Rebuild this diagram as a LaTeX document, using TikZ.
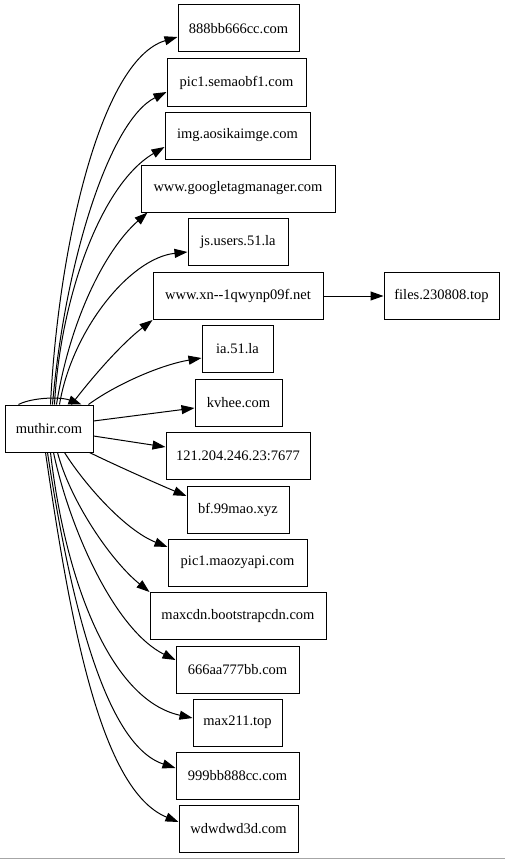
\documentclass[tikz,border=0pt]{standalone}
\usepackage{fontspec}
\setmainfont{Liberation Serif}
\usetikzlibrary{arrows.meta,calc}
\begin{document}
\begin{tikzpicture}[x=1pt,y=-1pt,
  box/.style={draw, line width=1pt, minimum height=47pt, inner sep=0pt, font=\fontsize{14.5}{16}\selectfont},
  e/.style={line width=1pt, -{Triangle[length=13pt,width=9pt]}}]
\useasboundingbox (0,0) rectangle (505,859);
\node[box, minimum width=88pt]  (m)   at (49,428.5)  {muthir.com};
\node[box, minimum width=121pt] (n1)  at (238.5,28.5) {888bb666cc.com};
\node[box, minimum width=139pt] (n2)  at (236.5,82.5) {pic1.semaobf1.com};
\node[box, minimum width=145pt] (n3)  at (237.5,135.5) {img.aosikaimge.com};
\node[box, minimum width=194pt] (n4)  at (238,188.5) {www.googletagmanager.com};
\node[box, minimum width=100pt] (n5)  at (238,242) {js.users.51.la};
\node[box, minimum width=170pt] (n6)  at (238,296) {www.xn{-}{-}1qwynp09f.net};
\node[box, minimum width=115pt] (n7)  at (441.5,296) {files.230808.top};
\node[box, minimum width=71pt]  (n8)  at (237.5,349) {ia.51.la};
\node[box, minimum width=87pt]  (n9)  at (238.5,402.5) {kvhee.com};
\node[box, minimum width=144pt] (n10) at (238,455.5) {121.204.246.23:7677};
\node[box, minimum width=102pt] (n11) at (238,509.5) {bf.99mao.xyz};
\node[box, minimum width=139pt] (n12) at (237.5,562.5) {pic1.maozyapi.com};
\node[box, minimum width=176pt] (n13) at (238,616) {maxcdn.bootstrapcdn.com};
\node[box, minimum width=123pt] (n14) at (237.5,669.5) {666aa777bb.com};
\node[box, minimum width=89pt]  (n15) at (237.5,722.5) {max211.top};
\node[box, minimum width=123pt] (n16) at (237.5,775.5) {999bb888cc.com};
\node[box, minimum width=119pt] (n17) at (238.5,828.5) {wdwdwd3d.com};
% self loop
\draw[e] ($(m.north west)+(14,0)$) .. controls (32,397.5) and (60,396.5) .. ($(m.north west)+(77,0)$);
% upward edges
\draw[e] ($(m.north west)+(46,0)$) .. controls (58,250) and (100,60) .. ($(n1.west)+(0,8.5)$);
\draw[e] ($(m.north west)+(48,0)$) .. controls (65,260) and (110,120) .. ($(n2.west)+(0,9.5)$);
\draw[e] ($(m.north west)+(50,0)$) .. controls (60,300) and (100,185) .. ($(n3.west)+(0,11.5)$);
\draw[e] ($(m.north west)+(52,0)$) .. controls (70,320) and (105,250) .. ($(n4.south west)+(7,0)$);
\draw[e] ($(m.north west)+(55,0)$) .. controls (72,330) and (130,258) .. ($(n5.west)+(0,10)$);
\draw[e] ($(m.north west)+(67,0)$) .. controls (90,380) and (120,345) .. (n6.south west);
\draw[e] ($(m.north west)+(84,0)$) .. controls (115,385) and (160,365) .. ($(n8.west)+(0,9)$);
% straight-ish edges
\draw[e] ($(m.east)+(0,-7.5)$) -- ($(n9.west)+(0,5.5)$);
\draw[e] ($(m.east)+(0,7.5)$) -- ($(n10.west)+(0,-8.5)$);
% downward edges
\draw[e] ($(m.south west)+(85,0)$) .. controls (115,465) and (160,485) .. ($(n11.west)+(0,-13.5)$);
\draw[e] ($(m.south west)+(60,0)$) .. controls (85,485) and (125,530) .. ($(n12.west)+(0,-15.5)$);
\draw[e] ($(m.south west)+(53,0)$) .. controls (70,500) and (110,560) .. (n13.north west);
\draw[e] ($(m.south west)+(49,0)$) .. controls (70,530) and (115,630) .. ($(n14.west)+(0,-9.5)$);
\draw[e] ($(m.south west)+(46,0)$) .. controls (65,580) and (110,700) .. ($(n15.west)+(0,-4.5)$);
\draw[e] ($(m.south west)+(43,0)$) .. controls (70,600) and (105,745) .. ($(n16.west)+(0,-7.5)$);
\draw[e] ($(m.south west)+(41,0)$) .. controls (70,620) and (100,790) .. ($(n17.west)+(0,-6.5)$);
% xn -> files
\draw[e] (n6.east) -- (n7.west);
% bottom rule
\draw[black!35, line width=1pt] (0,858) -- (505,858);
\end{tikzpicture}
\end{document}
